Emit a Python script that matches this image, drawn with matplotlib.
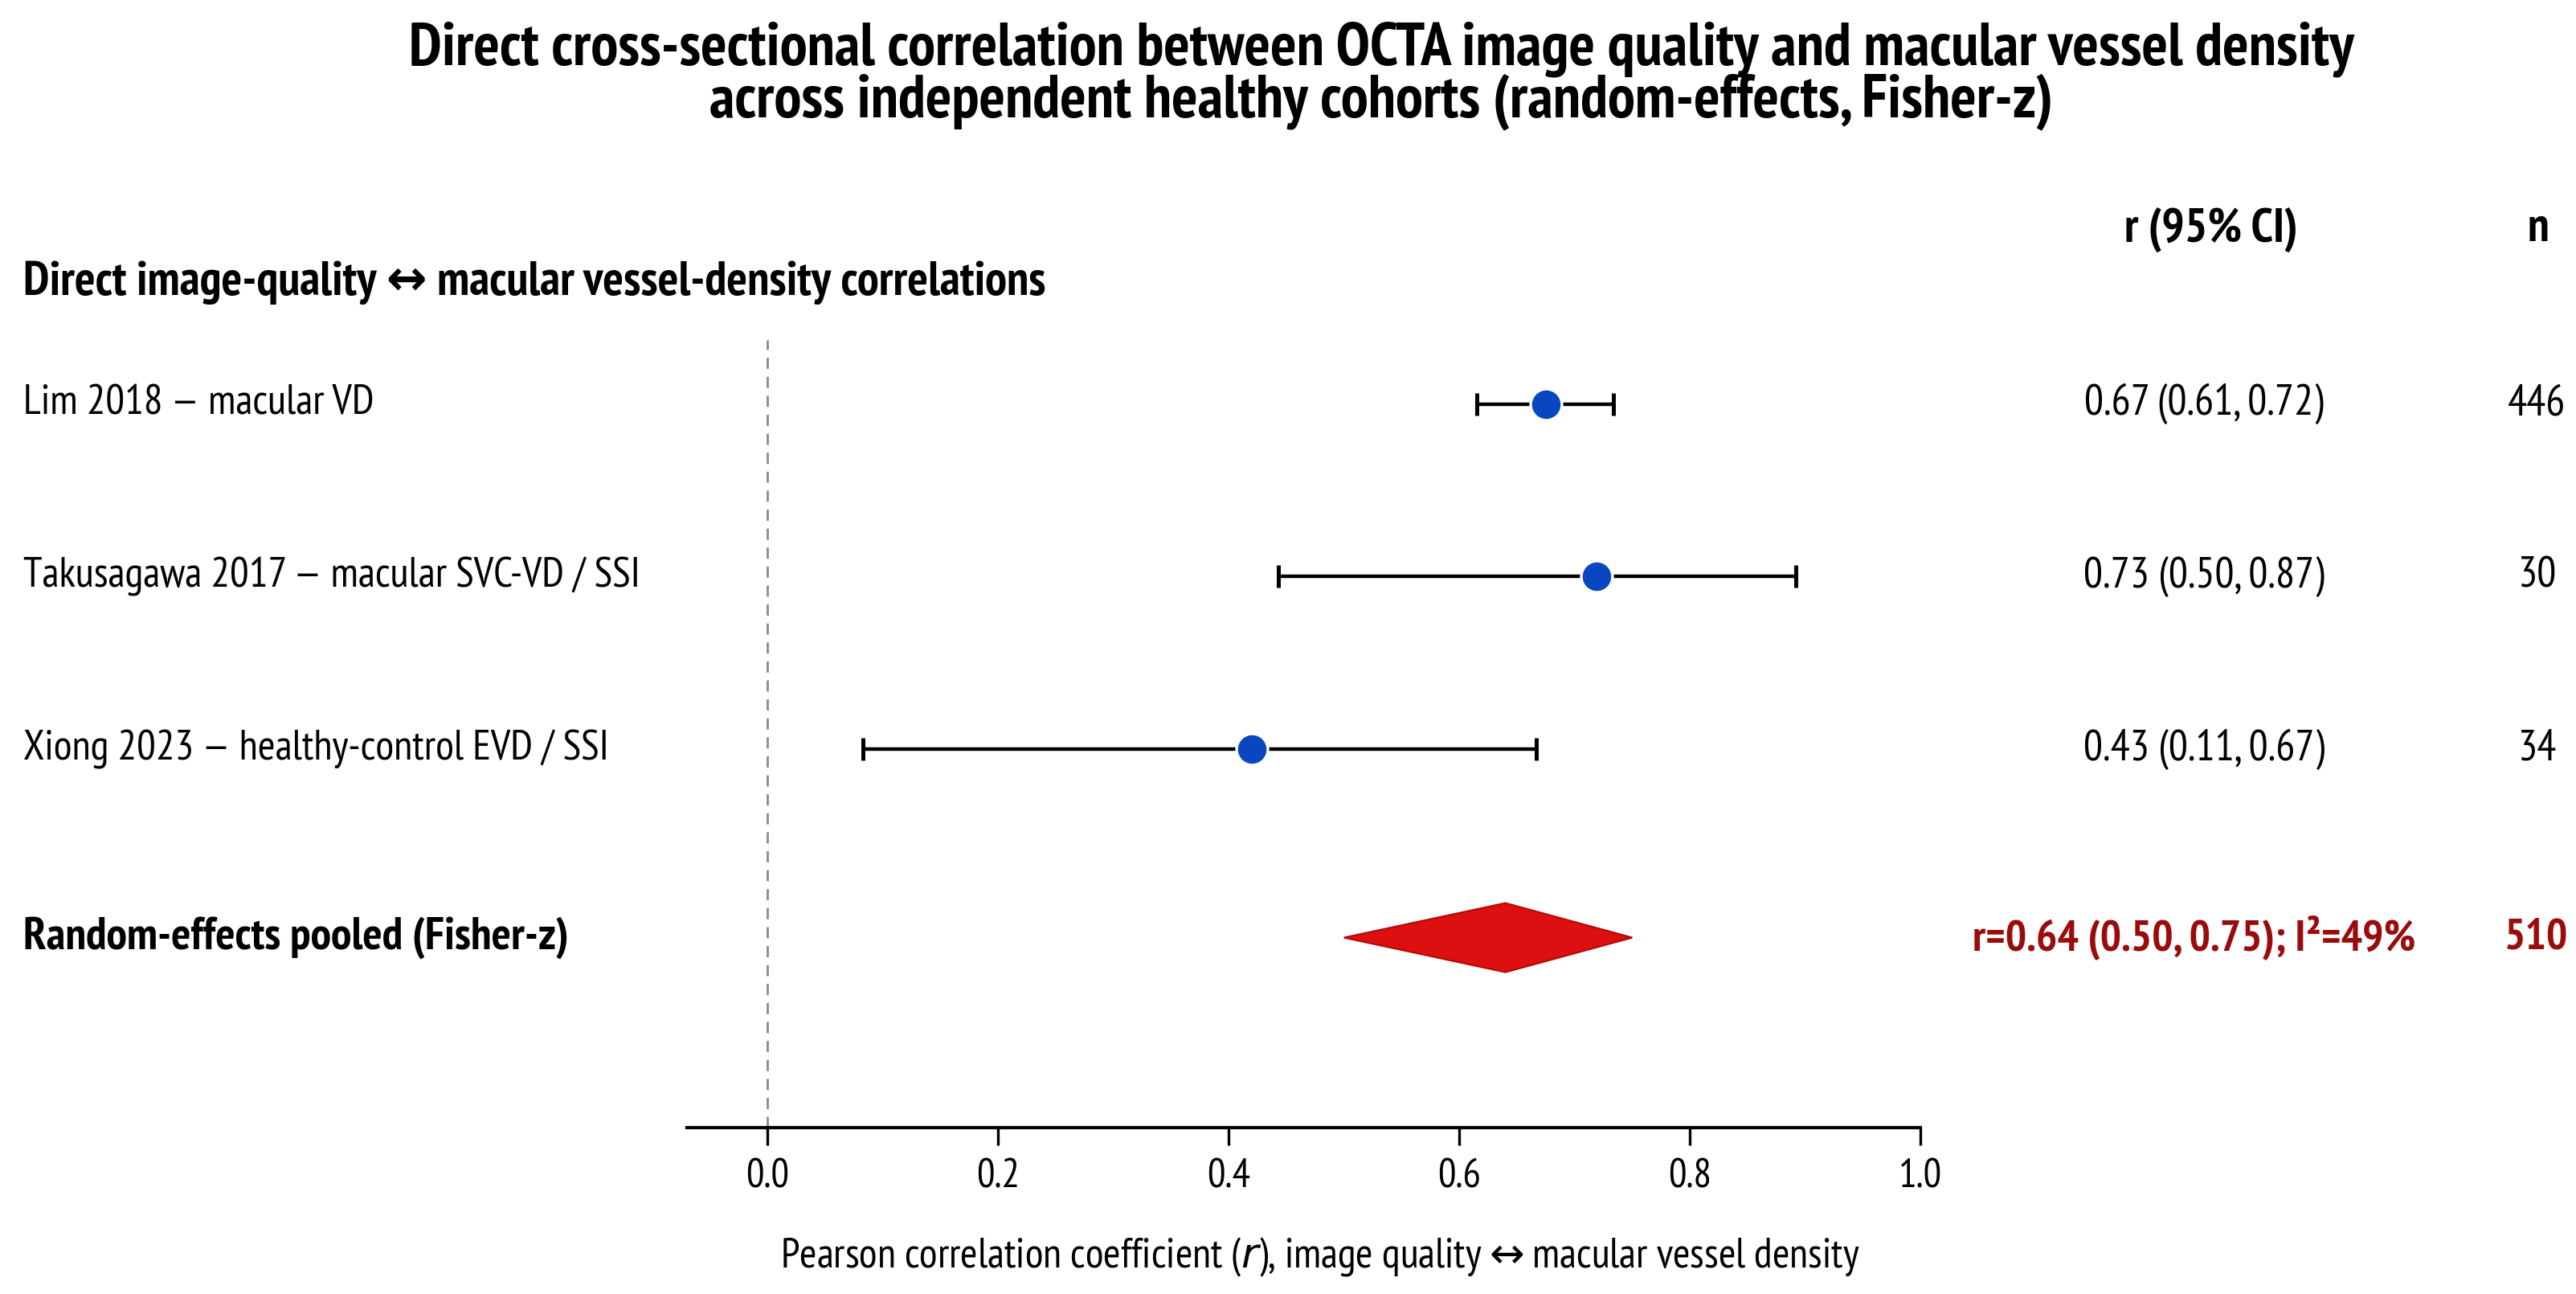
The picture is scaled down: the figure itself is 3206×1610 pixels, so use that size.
import matplotlib
matplotlib.use("Agg")
import matplotlib.pyplot as plt
import matplotlib.transforms as mtransforms
from matplotlib.patches import Polygon

# ---------------- data ----------------
title_lines = ["Direct cross-sectional correlation between OCTA image quality and macular vessel density",
               "across independent healthy cohorts (random-effects, Fisher-z)"]
section_header = "Direct image-quality \u2194 macular vessel-density correlations"
studies = ["Lim 2018 \u2014 macular VD",
           "Takusagawa 2017 \u2014 macular SVC-VD / SSI",
           "Xiong 2023 \u2014 healthy-control EVD / SSI"]
r_values = [0.675, 0.719, 0.420]
ci_low = [0.615, 0.443, 0.083]
ci_high = [0.734, 0.892, 0.667]
ci_labels = ["0.67 (0.61, 0.72)", "0.73 (0.50, 0.87)", "0.43 (0.11, 0.67)"]
n_values = [446, 30, 34]
pooled_label = "Random-effects pooled (Fisher-z)"
pooled_r = 0.64
pooled_low = 0.50
pooled_high = 0.75
pooled_text = "r=0.64 (0.50, 0.75); I\u00b2=49%"
pooled_n = 510
col_headers = ["r (95% CI)", "n"]
x_ticks = [0.0, 0.2, 0.4, 0.6, 0.8, 1.0]
x_label = "Pearson correlation coefficient ($r$), image quality$\\leftrightarrow$macular vessel density"

# ---------------- style ----------------
plt.rcParams["font.family"] = ["PT Sans Narrow", "DejaVu Sans"]
plt.rcParams["mathtext.fontset"] = "dejavusans"
BLUE = "#0a46c0"
RED = "#dc1010"
DARKRED = "#9a0c0c"

W, H, DPI = 3206, 1610, 200
fig = plt.figure(figsize=(W / DPI, H / DPI), dpi=DPI)
renderer = fig.canvas.get_renderer()


def fit(s, target_px, weight="normal", base=20.0):
    t = fig.text(0, 0, s, fontsize=base, weight=weight)
    w = t.get_window_extent(renderer).width
    t.remove()
    return base * target_px / w


ax = fig.add_axes([855 / W, 1 - 1403 / H, (2390 - 855) / W, (1403 - 423) / H])

n_rows = len(studies)
ys = list(range(n_rows))
pooled_y = n_rows + 0.09

ax.set_xlim(-0.07, 1.0)
ax.set_ylim(n_rows + 1.19, -0.37)

# reference line
ax.axvline(0.0, color="#8a8a8a", lw=1.0, linestyle=(0, (5, 3.5)), zorder=1)

# study CIs and points
xerr = [[r - lo for r, lo in zip(r_values, ci_low)], [hi - r for r, hi in zip(r_values, ci_high)]]
ax.errorbar(r_values, ys, xerr=xerr, fmt="none", ecolor="black", elinewidth=1.6,
            capsize=5.2, capthick=1.8, zorder=2)
ax.plot(r_values, ys, "o", color=BLUE, markersize=14, markeredgecolor="white",
        markeredgewidth=1.2, zorder=3, linestyle="none")

# pooled diamond
dh = 0.2
diamond = Polygon([(pooled_low, pooled_y), (pooled_r, pooled_y - dh), (pooled_high, pooled_y),
                   (pooled_r, pooled_y + dh)], closed=True, facecolor=RED, edgecolor="#b80808",
                  lw=0.8, zorder=3)
ax.add_patch(diamond)

# axes styling
for side in ["top", "right", "left"]:
    ax.spines[side].set_visible(False)
ax.spines["bottom"].set_linewidth(1.5)
ax.set_yticks([])
ax.set_xticks(x_ticks)
ax.set_xticklabels([f"{v:.1f}" for v in x_ticks])
ax.tick_params(axis="x", length=8, width=1.2, pad=6, labelsize=fit("0.0", 54))
ax.set_xlabel(x_label, fontsize=fit(x_label, 1343))
ax.xaxis.set_label_coords((1643 - 855) / (2390 - 855), (1403 - 1564) / (1403 - 423))
ax.xaxis.label.set_va("center")

# text columns
tr = mtransforms.blended_transform_factory(fig.transFigure, ax.transData)
lab_fs = fit(studies[1], 768)
ci_fs = fit(ci_labels[0], 297)
for y, s, c, n in zip(ys, studies, ci_labels, n_values):
    fig.text(29 / W, y, s, transform=tr, ha="left", va="center", fontsize=lab_fs)
    fig.text(2743 / W, y, c, transform=tr, ha="center", va="center", fontsize=ci_fs)
    fig.text(3157 / W, y, str(n), transform=tr, ha="center", va="center", fontsize=ci_fs)

pool_fs = fit(pooled_text, 552, "bold")
fig.text(29 / W, pooled_y, pooled_label, transform=tr, ha="left", va="center",
         fontsize=fit(pooled_label, 679, "bold"), weight="bold")
fig.text(2731 / W, pooled_y, pooled_text, transform=tr, ha="center", va="center",
         fontsize=pool_fs, weight="bold", color=DARKRED)
fig.text(3157 / W, pooled_y, str(pooled_n), transform=tr, ha="center", va="center",
         fontsize=pool_fs, weight="bold", color=DARKRED)

hdr_fs = fit(col_headers[0], 215, "bold")
fig.text(2752 / W, -1.01, col_headers[0], transform=tr, ha="center", va="center",
         fontsize=hdr_fs, weight="bold")
fig.text(3159 / W, -1.01, col_headers[1], transform=tr, ha="center", va="center",
         fontsize=hdr_fs, weight="bold")
fig.text(29 / W, -0.70, section_header, transform=tr, ha="left", va="center",
         fontsize=fit(section_header, 1271, "bold"), weight="bold")

# title
t_fs = fit(title_lines[0], 2419, "bold")
fig.text(0.5362, 1 - 61 / H, title_lines[0], ha="center", va="center", fontsize=t_fs, weight="bold")
fig.text(0.5362, 1 - 127 / H, title_lines[1], ha="center", va="center", fontsize=t_fs, weight="bold")

fig.savefig("out.png", dpi=DPI, facecolor="white")
